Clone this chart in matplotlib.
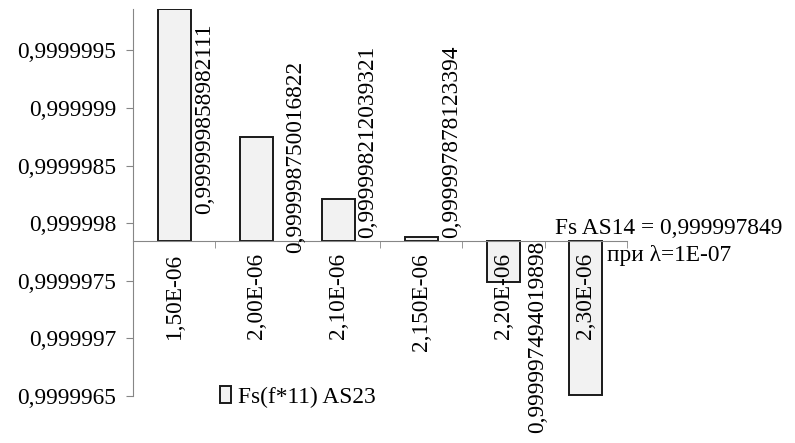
import matplotlib.pyplot as plt

categories = ['1,50E-06', '2,00E-06', '2,10E-06', '2,150E-06', '2,20E-06', '2,30E-06']
values = [0.999999858982111, 0.999998750016822, 0.999998212039321,
          0.999997878123394, 0.999997494019898, 0.99999651]
value_labels = ['0,999999858982111', '0,999998750016822', '0,999998212039321',
                '0,999997878123394', '0,999997494019898']
baseline = 0.999997849
ytick_values = [0.9999965, 0.999997, 0.9999975, 0.999998, 0.9999985, 0.999999, 0.9999995]
ytick_labels = ['0,9999965', '0,999997', '0,9999975', '0,999998', '0,9999985', '0,999999', '0,9999995']

plt.rcParams['font.family'] = ['Liberation Serif', 'DejaVu Serif']
FS = 16.8
GRAY = '#868686'

fig = plt.figure(figsize=(7.95, 4.43), dpi=100)
ax = fig.add_axes([133 / 795, 47 / 443, 494 / 795, 387 / 443])
ax.set_axisbelow(False)

x = list(range(len(categories)))
heights = [v - baseline for v in values]
ax.bar(x, heights, bottom=baseline, width=0.4, color='#f2f2f2',
       edgecolor='#1a1a1a', linewidth=1.4, label='Fs(f*11) AS23', zorder=2)

ax.set_xlim(-0.5, len(categories) - 0.5)
ax.set_ylim(0.9999965, 0.99999986)

for s in ['top', 'right']:
    ax.spines[s].set_visible(False)
ax.spines['left'].set_color(GRAY)
ax.spines['bottom'].set_color(GRAY)
ax.spines['bottom'].set_position(('data', baseline))

ax.set_yticks(ytick_values)
ax.set_yticklabels(ytick_labels, fontsize=FS)
ax.tick_params(axis='y', length=5, color=GRAY, pad=7)

ax.set_xticks(x)
ax.set_xticklabels(categories, rotation=90, fontsize=FS)
ax.tick_params(axis='x', which='major', length=0, pad=9)
ax.set_xticks([i + 0.5 for i in x], minor=True)
ax.tick_params(axis='x', which='minor', length=5, color=GRAY, direction='out')

# data labels, placed like the excel ones (dx in data units, dy in points)
label_dx = [0.375, 0.476, 0.35, 0.37, 0.41]
label_dy = [19, -9, 2, 2, 0]
for i, txt in enumerate(value_labels):
    va = 'bottom' if values[i] >= baseline else 'top'
    ax.annotate(txt, xy=(i + label_dx[i], baseline), xytext=(0, label_dy[i]),
                textcoords='offset points', rotation=90, ha='center', va=va,
                fontsize=FS, zorder=3, annotation_clip=False)

fig.text(555 / 795, 1 - 229 / 443, 'Fs AS14 = 0,999997849', fontsize=FS, ha='left', va='center')
fig.text(607 / 795, 1 - 256 / 443, 'при λ=1E-07', fontsize=FS, ha='left', va='center')

fig.legend(loc='center', bbox_to_anchor=(298 / 795, 1 - 397 / 443), frameon=False,
           fontsize=FS, handlelength=0.5, handleheight=0.7, handletextpad=0.3,
           borderpad=0)

fig.savefig('out.png', dpi=100)
